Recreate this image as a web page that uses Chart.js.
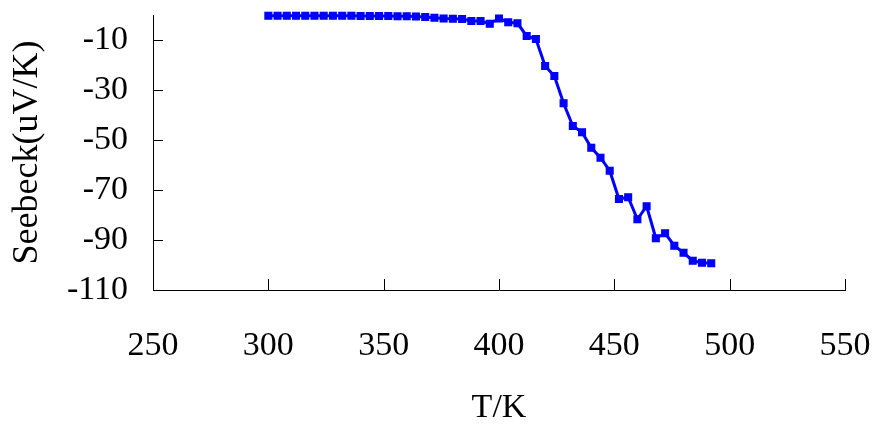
<!DOCTYPE html>
<html>
<head>
<meta charset="utf-8">
<script src="https://cdn.jsdelivr.net/npm/chart.js@4"></script>
<style>
  html, body { margin: 0; padding: 0; background: #fff; }
  #wrap { width: 872px; height: 425px; }
</style>
</head>
<body>
<div id="wrap"><canvas id="myChartSeebeck" width="872" height="425"></canvas></div>
<script>
// temperature (K) and Seebeck coefficient (uV/K)
const temps = [300, 304, 308, 312, 316, 320, 324, 328, 332, 336, 340, 344, 348, 352, 356, 360, 364,
  368, 372, 376, 380, 384, 388, 392, 396, 400, 404, 408, 412, 416, 420, 424, 428, 432, 436, 440,
  444, 448, 452, 456, 460, 464, 468, 472, 476, 480, 484, 488, 492];
const seebeck = [-0.3, -0.3, -0.3, -0.3, -0.3, -0.3, -0.3, -0.3, -0.3, -0.3, -0.4, -0.4, -0.4, -0.4, -0.5, -0.5, -0.6,
  -0.8, -1.1, -1.4, -1.5, -1.6, -2.4, -2.4, -3.5, -1.4, -2.9, -3.3, -8.4, -9.6, -20.4, -24.4, -35.3, -44.4, -46.9, -53.1,
  -57.1, -62.3, -73.6, -72.9, -81.7, -76.5, -89.3, -87.3, -92.3, -95.1, -98.3, -99.1, -99.3];
const xTicks = [250, 300, 350, 400, 450, 500, 550];
const yTicks = [-110, -90, -70, -50, -30, -10];

const serif = '"Liberation Serif", "Times New Roman", serif';

// short tick marks pointing into the plot, like the old spreadsheet style
const innerTicks = {
  id: 'innerTicks',
  afterDraw (chart) {
    const ctx = chart.ctx;
    const x = chart.scales.x, y = chart.scales.y;
    const area = chart.chartArea;
    ctx.save();
    ctx.strokeStyle = '#000';
    ctx.lineWidth = 1;
    ctx.beginPath();
    yTicks.forEach(v => {
      const py = Math.round(y.getPixelForValue(v)) + 0.5;
      ctx.moveTo(area.left, py);
      ctx.lineTo(area.left + 10, py);
    });
    xTicks.forEach(v => {
      const px = Math.round(x.getPixelForValue(v)) + 0.5;
      ctx.moveTo(px, area.bottom);
      ctx.lineTo(px, area.bottom - 11);
    });
    ctx.stroke();
    ctx.restore();
  }
};

var ctx = document.getElementById('myChartSeebeck').getContext('2d');
var myChart = new Chart(ctx, {
  type: 'scatter',
  data: {
    datasets: [{
      label: 'Seebeck',
      data: temps.map((t, i) => ({ x: t, y: seebeck[i] })),
      showLine: true,
      borderColor: '#0000ff',
      backgroundColor: '#0000ff',
      borderWidth: 3,
      pointStyle: 'rect',
      pointRadius: 5.7,
      pointHoverRadius: 5.7,
      pointBorderWidth: 0,
      clip: false,
    }]
  },
  options: {
    responsive: false,
    animation: false,
    events: [],
    layout: { padding: { top: 15, right: 27, bottom: 0, left: 0 } },
    plugins: { legend: { display: false }, tooltip: { enabled: false } },
    scales: {
      x: {
        type: 'linear',
        min: 250,
        max: 550,
        afterBuildTicks: scale => { scale.ticks = xTicks.map(v => ({ value: v })); },
        afterFit: scale => {
          scale.height = 135;
          scale.paddingLeft = 0;
          scale.paddingRight = 0;
        },
        grid: { display: false, drawTicks: false },
        border: { display: true, color: '#000', width: 1 },
        ticks: { color: '#000', padding: 36, maxRotation: 0, font: { family: serif, size: 34 } },
        title: {
          display: true,
          text: 'T/K',
          color: '#000',
          font: { family: serif, size: 34, lineHeight: 1 },
          padding: { top: 0, bottom: 0 }
        }
      },
      y: {
        type: 'linear',
        min: -110,
        max: 0,
        afterBuildTicks: scale => { scale.ticks = yTicks.map(v => ({ value: v })); },
        afterFit: scale => {
          scale.width = 153;
          scale.paddingTop = 0;
          scale.paddingBottom = 0;
        },
        grid: { display: false, drawTicks: false },
        border: { display: true, color: '#000', width: 1 },
        ticks: { color: '#000', padding: 25, font: { family: serif, size: 34 } },
        title: {
          display: true,
          text: 'Seebeck(uV/K)',
          color: '#000',
          font: { family: serif, size: 36, lineHeight: 1 },
          padding: { top: 10, bottom: 0 }
        }
      }
    }
  },
  plugins: [innerTicks]
});
</script>
</body>
</html>
